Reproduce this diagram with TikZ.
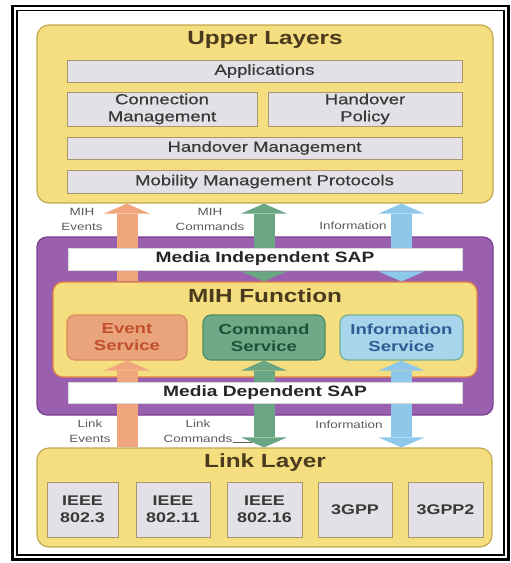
\documentclass[tikz,border=0pt]{standalone}
\usepackage{fontspec}
\setmainfont[FakeStretch=1.28]{Liberation Sans}
\newfontfamily\mediumfont[FakeStretch=1.28, FakeBold=0.6]{Liberation Sans}
\usetikzlibrary{arrows.meta}

% Colours
\definecolor{layeryellow}{HTML}{F4DE80}
\definecolor{layerborder}{HTML}{C2A850}
\definecolor{boxgray}{HTML}{E3E1E6}
\definecolor{boxborder}{HTML}{A89670}
\definecolor{mihpurple}{HTML}{9B5FAF}
\definecolor{mihborder}{HTML}{7A3F8E}
\definecolor{funcborder}{HTML}{E2803F}
\definecolor{evtfill}{HTML}{E9A47C}
\definecolor{evtborder}{HTML}{D88A5E}
\definecolor{evttext}{HTML}{C1502B}
\definecolor{cmdfill}{HTML}{70A987}
\definecolor{cmdborder}{HTML}{4D8A66}
\definecolor{cmdtext}{HTML}{1E5236}
\definecolor{infofill}{HTML}{A8D4EC}
\definecolor{infoborder}{HTML}{73B08E}
\definecolor{infotext}{HTML}{2C5E93}
\definecolor{evtarrow}{HTML}{EFA67C}
\definecolor{cmdarrow}{HTML}{6BA684}
\definecolor{infoarrow}{HTML}{8DC7E9}
\definecolor{titlebrown}{HTML}{4A3A1E}
\definecolor{labelgray}{HTML}{5A5A5A}

\tikzset{
  layerbox/.style={draw=layerborder, fill=layeryellow, line width=1.2pt,
    rounded corners=12pt, inner sep=0pt},
  graybox/.style={draw=boxborder, fill=boxgray, line width=0.9pt, inner sep=0pt,
    align=center, text=black!78, font=\mediumfont\fontsize{14.5}{17}\selectfont},
  sapbar/.style={draw=black!15, fill=white, line width=0.4pt, inner sep=0pt,
    text=black!85, font=\fontsize{15}{17}\selectfont\bfseries,
    minimum width=394, minimum height=22},
  service/.style={line width=1.2pt, rounded corners=8pt, inner sep=0pt,
    align=center, minimum height=45, font=\fontsize{14.5}{17}\selectfont\bfseries},
  titletext/.style={text=titlebrown, font=\fontsize{19}{21}\selectfont\bfseries},
  stdbox/.style={graybox, font=\fontsize{14}{17}\selectfont\bfseries,
    minimum width=74, minimum height=55},
  smalllabel/.style={align=center, text=labelgray, inner sep=0pt,
    font=\fontsize{10.5}{15}\selectfont},
  fat/.tip={Triangle[width=46pt, length=10pt, line width=0pt]},
  fatarrow/.style={line width=21pt},
}

\begin{document}
\begin{tikzpicture}[x=1pt, y=-1pt]

    % Fix the picture size to the reference
    \useasboundingbox (0,0) rectangle (511,563);

    % Double frame round the whole figure
    \draw[line width=2.4pt] (12.5,6) rectangle (508.5,559.5);
    \draw[line width=1.3pt] (17,10.5) rectangle (504,555);

    % Upper layers block with its four rows
    \node[layerbox, minimum width=456, minimum height=178] (upper) at (265,114) {};
    \node[titletext] (uppertitle) at (265,40) {Upper Layers};
    \node[graybox, minimum width=395, minimum height=22] (apps) at (264.5,71) {Applications};
    \node[graybox, minimum width=190, minimum height=34] (connmgmt) at (162,109) {Connection\\Management};
    \node[graybox, minimum width=194, minimum height=34] (hopolicy) at (365,109) {Handover\\Policy};
    \node[graybox, minimum width=395, minimum height=22] (homgmt) at (264.5,148) {Handover Management};
    \node[graybox, minimum width=395, minimum height=23] (mobmgmt) at (264.5,181.5) {Mobility Management Protocols};

    % Link layer block with the five technologies
    \node[layerbox, minimum width=455, minimum height=99] (link) at (264.5,497.5) {};
    \node[titletext] (linktitle) at (265,463) {Link Layer};
    \node[stdbox, minimum width=71] (ieee3) at (82.5,509.5) {IEEE\\802.3};
    \node[stdbox] (ieee11) at (173,509.5) {IEEE\\802.11};
    \node[stdbox, minimum width=75] (ieee16) at (264.5,509.5) {IEEE\\802.16};
    \node[stdbox] (gpp) at (355,509.5) {3GPP};
    \node[stdbox, minimum width=75] (gpptwo) at (445.5,509.5) {3GPP2};

    % MIH block (purple) and the MIH function inside it
    \node[draw=mihborder, fill=mihpurple, line width=1.2pt, rounded corners=10pt,
      minimum width=456, minimum height=178] (mih) at (265,326) {};
    \node[layerbox, draw=funcborder, rounded corners=10pt,
      minimum width=424, minimum height=95] (mihf) at (265,329.5) {};
    \node[titletext] (mihftitle) at (265,296) {MIH Function};

    % The three services
    \node[service, draw=evtborder, fill=evtfill, text=evttext, minimum width=120]
      (event) at (127,337.5) {Event\\Service};
    \node[service, draw=cmdborder, fill=cmdfill, text=cmdtext, minimum width=122]
      (command) at (264,337.5) {Command\\Service};
    \node[service, draw=infoborder, fill=infofill, text=infotext, minimum width=123]
      (info) at (401.5,337.5) {Information\\Service};

    % Event arrows (up only)
    \draw[fatarrow, evtarrow, -fat] (event.north |- mihf.north) -- (event.north |- upper.south);
    \draw[fatarrow, evtarrow, -fat] (event.south |- link.north) -- (event.south);

    % Command arrows (both ways)
    \draw[fatarrow, cmdarrow, fat-fat] (command.north |- mihf.north) -- (command.north |- upper.south);
    \draw[fatarrow, cmdarrow, fat-fat] (command.south) -- (command.south |- link.north);

    % Information arrows (both ways)
    \draw[fatarrow, infoarrow, fat-fat] (info.north |- mihf.north) -- (info.north |- upper.south);
    \draw[fatarrow, infoarrow, fat-fat] (info.south) -- (info.south |- link.north);

    % Service access points, drawn over the arrows
    \node[sapbar] (misap) at (265,259) {Media Independent SAP};
    \node[sapbar, minimum height=21] (mdsap) at (265,392.5) {Media Dependent SAP};

    % Small labels beside the arrows
    \node[smalllabel] (mihevt) at (82,219.5) {MIH\\Events};
    \node[smalllabel] (mihcmd) at (210,219.5) {MIH\\Commands};
    \node[smalllabel] (mihinfo) at (353,226) {Information};
    \node[smalllabel] (lnkevt) at (90,431.5) {Link\\Events};
    \node[smalllabel] (lnkcmd) at (198,431.5) {Link\\Commands};
    \node[smalllabel] (lnkinfo) at (349,425) {Information};

    % Short leader from the link commands label
    \coordinate (cmdend) at (252,442);
    \draw[labelgray, line width=0.6pt] (lnkcmd.east |- cmdend) -- (cmdend);

\end{tikzpicture}
\end{document}
